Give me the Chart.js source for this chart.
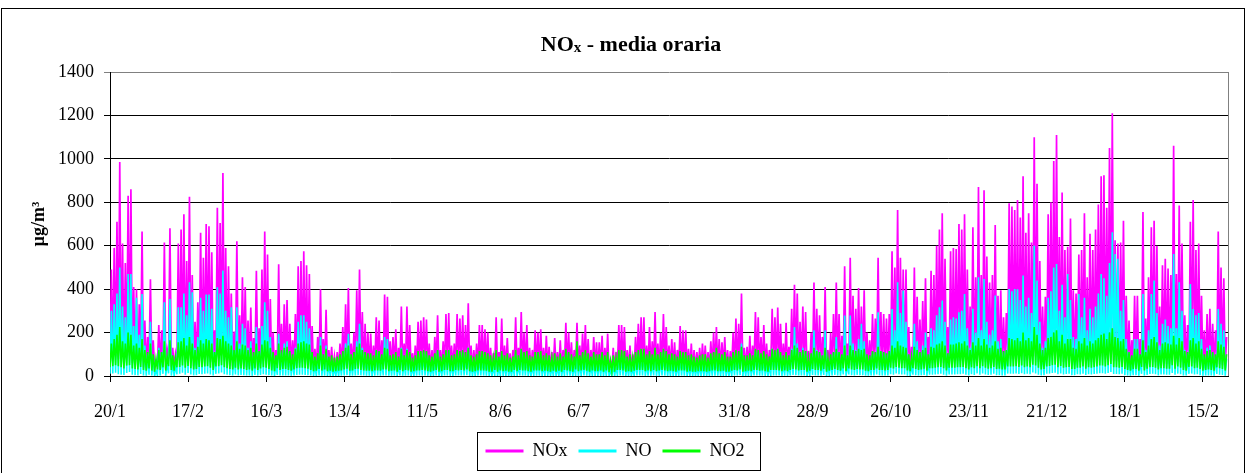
<!DOCTYPE html>
<html>
<head>
<meta charset="utf-8">
<script src="https://cdn.jsdelivr.net/npm/chart.js@4.4.1/dist/chart.umd.min.js"></script>
<style>
html, body { margin: 0; padding: 0; background: #fff; }
#wrap { position: relative; width: 1246px; height: 473px; }
</style>
</head>
<body>
<div id="wrap"><canvas id="noxChart"></canvas></div>
<script>
// x axis: one unit = one day from 20/1; labels every 28 days
const tickLabels = ['20/1', '17/2', '16/3', '13/4', '11/5', '8/6', '6/7', '3/8', '31/8', '28/9', '26/10', '23/11', '21/12', '18/1', '15/2'];

// daily highs and lows (µg/m³)
const noxPeak = [
  490, 590, 710, 985, 610, 520, 830, 860, 410, 400,
  330, 665, 255, 180, 445, 165, 65, 235, 210, 615,
  120, 680, 130, 105, 610, 675, 745, 530, 825, 465,
  250, 340, 660, 545, 700, 690, 570, 210, 775, 705,
  935, 590, 505, 380, 205, 620, 280, 455, 410, 255,
  315, 175, 485, 220, 490, 665, 560, 355, 200, 120,
  515, 240, 330, 350, 240, 165, 285, 505, 530, 575,
  510, 470, 230, 125, 180, 400, 170, 305, 120, 135,
  90, 110, 150, 225, 330, 405, 150, 200, 395, 490,
  295, 240, 200, 195, 140, 270, 255, 165, 375, 365,
  160, 180, 215, 130, 320, 150, 320, 235, 105, 140,
  250, 255, 270, 260, 150, 120, 180, 280, 120, 160,
  285, 290, 140, 150, 285, 265, 280, 235, 335, 140,
  120, 150, 235, 235, 215, 200, 130, 105, 270, 110,
  265, 140, 175, 105, 120, 270, 130, 295, 200, 235,
  130, 120, 210, 200, 215, 130, 185, 135, 110, 175,
  110, 165, 120, 245, 200, 155, 120, 245, 140, 195,
  235, 170, 120, 180, 155, 155, 185, 130, 195, 70,
  130, 110, 235, 235, 225, 120, 140, 100, 180, 240,
  270, 270, 140, 225, 160, 295, 150, 200, 285, 225,
  140, 170, 155, 120, 230, 210, 210, 125, 150, 120,
  110, 130, 150, 140, 110, 160, 200, 225, 170, 155,
  180, 120, 115, 200, 265, 240, 380, 130, 135, 185,
  140, 295, 270, 180, 235, 150, 120, 310, 270, 315,
  240, 150, 245, 135, 310, 420, 380, 250, 320, 295,
  115, 200, 430, 310, 280, 180, 410, 120, 200, 285,
  430, 285, 185, 505, 150, 545, 370, 310, 405, 320,
  395, 200, 165, 285, 265, 545, 295, 285, 265, 285,
  575, 500, 765, 545, 490, 490, 225, 135, 500, 365,
  260, 345, 450, 180, 485, 465, 600, 675, 750, 540,
  225, 575, 590, 585, 700, 675, 745, 490, 320, 685,
  455, 870, 465, 855, 550, 430, 465, 695, 370, 395,
  270, 290, 795, 780, 765, 810, 730, 920, 660, 750,
  615, 1100, 885, 530, 320, 365, 745, 800, 990, 1110,
  640, 845, 580, 595, 725, 395, 380, 560, 580, 750,
  455, 655, 580, 675, 790, 920, 925, 775, 1050, 1210,
  625, 610, 615, 715, 370, 255, 165, 370, 370, 170,
  755, 265, 455, 685, 715, 600, 320, 510, 540, 495,
  465, 1060, 470, 785, 610, 280, 235, 710, 810, 580,
  610, 370, 210, 285, 310, 240, 210, 665, 500, 450,
  180
];
const noxLow = [
  60, 75, 90, 80, 70, 55, 85, 95, 60, 50,
  45, 70, 40, 35, 55, 40, 30, 45, 40, 65,
  35, 80, 40, 35, 70, 75, 90, 65, 85, 60,
  45, 50, 75, 70, 80, 85, 65, 40, 80, 85,
  95, 70, 60, 50, 45, 65, 45, 55, 50, 40,
  45, 35, 55, 40, 55, 70, 60, 50, 40, 30,
  60, 40, 50, 50, 40, 35, 45, 60, 60, 65,
  60, 55, 40, 30, 35, 50, 35, 45, 30, 35,
  25, 30, 35, 40, 45, 55, 35, 40, 50, 55,
  45, 40, 35, 35, 30, 40, 40, 35, 45, 45,
  35, 35, 40, 30, 45, 35, 45, 40, 30, 35,
  40, 40, 45, 40, 35, 30, 35, 45, 30, 35,
  45, 45, 35, 35, 45, 40, 45, 40, 50, 35,
  30, 35, 40, 40, 40, 35, 30, 30, 45, 30,
  40, 35, 35, 30, 30, 45, 35, 45, 40, 40,
  35, 30, 40, 40, 40, 35, 35, 35, 30, 35,
  30, 35, 30, 45, 40, 35, 30, 45, 35, 40,
  45, 35, 30, 40, 35, 35, 40, 30, 40, 25,
  35, 30, 45, 45, 40, 30, 35, 30, 35, 45,
  45, 45, 35, 40, 35, 45, 35, 40, 45, 40,
  35, 40, 35, 30, 40, 40, 40, 30, 35, 30,
  30, 35, 35, 35, 30, 35, 40, 40, 35, 35,
  40, 30, 30, 40, 45, 40, 50, 30, 35, 40,
  35, 45, 45, 40, 40, 35, 30, 45, 45, 45,
  40, 35, 40, 35, 45, 55, 50, 40, 45, 45,
  30, 40, 55, 45, 45, 40, 55, 30, 40, 45,
  55, 45, 40, 60, 35, 60, 50, 45, 55, 50,
  50, 40, 35, 45, 45, 60, 45, 45, 40, 45,
  65, 60, 80, 65, 60, 60, 40, 35, 60, 50,
  45, 50, 55, 40, 60, 60, 65, 70, 75, 60,
  40, 65, 65, 65, 70, 70, 75, 60, 45, 70,
  60, 85, 60, 85, 65, 55, 60, 75, 50, 55,
  45, 45, 80, 80, 80, 85, 75, 90, 70, 80,
  70, 100, 90, 65, 45, 50, 80, 85, 95, 100,
  70, 85, 65, 70, 75, 50, 50, 65, 65, 80,
  55, 70, 65, 70, 80, 90, 90, 80, 95, 110,
  70, 70, 65, 75, 50, 40, 35, 50, 50, 35,
  75, 40, 55, 70, 75, 65, 45, 60, 60, 55,
  55, 95, 55, 80, 65, 40, 35, 75, 80, 60,
  65, 50, 35, 40, 45, 40, 35, 70, 55, 50,
  35
];
const noPeak = [
  300, 330, 380, 500, 320, 270, 470, 470, 230, 360,
  190, 378, 140, 100, 250, 90, 25, 130, 110, 340,
  60, 355, 60, 50, 317, 317, 380, 280, 432, 386,
  130, 180, 360, 300, 375, 375, 310, 110, 409, 380,
  486, 300, 270, 317, 100, 317, 150, 240, 220, 130,
  160, 90, 225, 110, 230, 340, 300, 180, 100, 55,
  195, 110, 150, 160, 110, 70, 130, 250, 280, 280,
  250, 220, 100, 50, 80, 180, 70, 140, 50, 60,
  35, 45, 60, 100, 150, 195, 60, 90, 160, 240,
  130, 100, 85, 80, 55, 120, 110, 70, 180, 170,
  65, 75, 90, 50, 130, 60, 125, 95, 40, 55,
  100, 105, 110, 100, 60, 45, 70, 115, 45, 60,
  110, 120, 55, 60, 110, 100, 110, 90, 130, 55,
  45, 60, 90, 90, 80, 75, 50, 40, 100, 40,
  100, 55, 65, 40, 45, 100, 50, 120, 75, 90,
  50, 45, 80, 75, 80, 50, 70, 50, 40, 65,
  40, 60, 45, 95, 75, 60, 45, 95, 55, 75,
  90, 65, 45, 70, 60, 60, 70, 50, 75, 25,
  50, 40, 90, 90, 85, 45, 55, 35, 70, 95,
  105, 105, 55, 85, 60, 115, 55, 75, 110, 85,
  55, 65, 60, 45, 90, 80, 80, 45, 55, 45,
  40, 50, 55, 55, 40, 60, 75, 85, 65, 60,
  70, 45, 45, 75, 100, 90, 150, 50, 50, 70,
  55, 115, 105, 70, 90, 55, 45, 125, 105, 125,
  95, 55, 95, 50, 125, 225, 150, 95, 130, 115,
  40, 75, 210, 120, 110, 65, 210, 45, 75, 110,
  180, 110, 70, 279, 55, 279, 150, 120, 170, 240,
  160, 75, 60, 110, 100, 294, 115, 110, 100, 115,
  309, 210, 432, 290, 394, 250, 85, 50, 240, 160,
  100, 140, 200, 65, 220, 210, 280, 317, 348, 250,
  85, 260, 270, 265, 294, 300, 378, 220, 130, 310,
  200, 455, 210, 447, 250, 190, 210, 371, 160, 170,
  110, 120, 401, 390, 401, 400, 350, 463, 320, 360,
  290, 600, 440, 250, 130, 160, 360, 390, 500, 516,
  300, 420, 270, 470, 350, 180, 170, 378, 270, 360,
  210, 310, 270, 320, 380, 470, 450, 370, 520, 662,
  562, 540, 300, 350, 170, 110, 70, 170, 170, 75,
  378, 120, 210, 378, 440, 290, 140, 240, 260, 230,
  220, 562, 220, 432, 300, 120, 100, 424, 309, 280,
  290, 170, 90, 130, 140, 110, 90, 309, 240, 210,
  80
];
const noLow = [
  10, 12, 15, 8, 6, 5, 14, 18, 6, 4,
  3, 9, 2, 1, 6, 2, 0, 3, 2, 10,
  1, 12, 2, 1, 8, 10, 15, 6, 14, 7,
  3, 4, 9, 8, 11, 12, 7, 2, 10, 12,
  16, 8, 6, 4, 2, 7, 3, 5, 4, 2,
  3, 1, 5, 2, 5, 8, 6, 4, 2, 0,
  5, 2, 3, 3, 2, 1, 3, 5, 6, 6,
  5, 4, 2, 0, 1, 3, 1, 2, 0, 1,
  0, 1, 1, 2, 3, 4, 1, 2, 3, 4,
  3, 2, 1, 1, 0, 2, 2, 1, 3, 3,
  1, 1, 2, 0, 3, 1, 2, 2, 0, 1,
  2, 2, 3, 2, 1, 0, 1, 3, 0, 1,
  3, 3, 1, 1, 3, 2, 3, 2, 4, 1,
  0, 1, 2, 2, 2, 1, 0, 0, 3, 0,
  2, 1, 1, 0, 0, 3, 1, 3, 2, 2,
  1, 0, 2, 2, 2, 1, 1, 1, 0, 1,
  0, 1, 0, 3, 2, 1, 0, 3, 1, 2,
  3, 1, 0, 2, 1, 1, 2, 0, 2, 0,
  1, 0, 3, 3, 2, 0, 1, 0, 1, 3,
  3, 3, 1, 2, 1, 3, 1, 2, 3, 2,
  1, 2, 1, 0, 2, 2, 2, 0, 1, 0,
  0, 1, 1, 1, 0, 1, 2, 2, 1, 1,
  2, 0, 0, 2, 3, 2, 4, 0, 1, 2,
  1, 3, 3, 2, 2, 1, 0, 3, 3, 3,
  2, 1, 2, 1, 3, 5, 4, 2, 3, 3,
  0, 2, 5, 3, 3, 2, 5, 0, 2, 3,
  5, 3, 2, 7, 1, 7, 4, 3, 5, 4,
  4, 2, 1, 3, 3, 7, 3, 3, 2, 3,
  8, 6, 12, 8, 7, 7, 2, 1, 6, 4,
  3, 4, 5, 1, 6, 6, 7, 8, 10, 6,
  2, 7, 7, 7, 8, 8, 10, 6, 3, 8,
  5, 12, 6, 12, 7, 5, 6, 10, 4, 4,
  3, 3, 11, 10, 10, 11, 9, 13, 8, 10,
  8, 16, 12, 6, 3, 4, 10, 11, 14, 15,
  8, 12, 7, 9, 10, 4, 4, 8, 7, 10,
  5, 8, 7, 9, 11, 13, 13, 10, 14, 18,
  9, 9, 8, 10, 4, 2, 1, 4, 4, 1,
  10, 2, 5, 9, 10, 8, 3, 7, 7, 6,
  6, 14, 6, 11, 8, 2, 2, 10, 11, 7,
  8, 4, 1, 2, 3, 2, 1, 9, 6, 5,
  1
];
const no2Peak = [
  150, 170, 190, 225, 160, 150, 200, 190, 140, 150,
  130, 170, 120, 110, 150, 100, 80, 120, 110, 160,
  90, 165, 95, 85, 155, 160, 175, 140, 180, 150,
  120, 135, 165, 150, 170, 165, 150, 110, 175, 170,
  185, 160, 150, 140, 120, 160, 125, 145, 140, 120,
  130, 110, 150, 115, 145, 165, 160, 130, 110, 95,
  150, 120, 130, 135, 115, 100, 125, 150, 155, 160,
  150, 145, 110, 90, 105, 140, 100, 125, 90, 95,
  85, 90, 100, 115, 130, 140, 100, 110, 135, 150,
  120, 110, 105, 105, 95, 120, 115, 100, 130, 125,
  95, 100, 110, 90, 125, 95, 120, 110, 85, 95,
  115, 115, 120, 115, 95, 90, 105, 120, 90, 100,
  120, 120, 95, 100, 120, 115, 120, 110, 130, 95,
  90, 100, 115, 115, 110, 105, 95, 85, 120, 90,
  115, 95, 105, 85, 90, 120, 95, 125, 110, 115,
  95, 90, 110, 110, 115, 95, 105, 95, 85, 105,
  90, 105, 90, 125, 110, 100, 90, 160, 95, 110,
  120, 105, 90, 110, 100, 100, 110, 95, 110, 70,
  95, 85, 120, 120, 115, 90, 100, 85, 110, 120,
  125, 125, 100, 115, 100, 130, 100, 110, 125, 115,
  100, 105, 100, 90, 115, 110, 110, 95, 100, 90,
  85, 95, 100, 100, 85, 105, 110, 130, 105, 100,
  110, 90, 90, 110, 120, 115, 135, 95, 95, 105,
  95, 125, 120, 105, 115, 100, 90, 125, 120, 125,
  110, 95, 110, 95, 120, 140, 130, 110, 120, 115,
  85, 105, 130, 115, 110, 95, 130, 85, 100, 110,
  125, 110, 100, 140, 95, 140, 120, 115, 125, 120,
  125, 100, 95, 115, 110, 135, 115, 110, 105, 115,
  140, 130, 160, 140, 135, 130, 100, 90, 135, 120,
  110, 120, 130, 100, 135, 130, 145, 150, 160, 140,
  105, 145, 145, 150, 155, 150, 160, 140, 120, 155,
  140, 175, 140, 170, 145, 130, 140, 160, 125, 130,
  115, 120, 175, 170, 165, 175, 160, 200, 165, 175,
  160, 225, 190, 150, 120, 130, 175, 180, 200, 210,
  160, 190, 150, 170, 170, 130, 125, 160, 150, 175,
  140, 160, 150, 165, 175, 190, 195, 170, 200, 220,
  180, 175, 160, 170, 125, 110, 95, 125, 125, 100,
  165, 110, 140, 170, 180, 155, 120, 150, 155, 150,
  145, 185, 145, 175, 160, 115, 110, 165, 175, 150,
  160, 125, 100, 115, 120, 110, 100, 160, 145, 135,
  100
];
const no2Low = [
  40, 45, 50, 45, 40, 35, 48, 50, 35, 32,
  30, 42, 28, 25, 35, 25, 20, 30, 28, 40,
  25, 45, 28, 25, 40, 42, 48, 38, 46, 36,
  30, 32, 42, 40, 44, 45, 38, 28, 44, 45,
  50, 40, 36, 32, 30, 38, 30, 35, 32, 28,
  30, 25, 35, 28, 35, 40, 38, 32, 26, 22,
  36, 28, 32, 32, 28, 25, 30, 36, 38, 38,
  36, 34, 28, 22, 25, 32, 25, 30, 22, 24,
  20, 22, 24, 26, 30, 34, 24, 26, 32, 34,
  28, 26, 24, 24, 22, 26, 26, 24, 30, 30,
  22, 24, 26, 20, 28, 22, 28, 26, 20, 22,
  26, 26, 28, 26, 22, 20, 24, 28, 20, 22,
  28, 28, 22, 22, 28, 26, 28, 26, 30, 22,
  20, 22, 26, 26, 26, 24, 20, 20, 28, 20,
  26, 22, 24, 20, 20, 28, 22, 28, 26, 26,
  22, 20, 26, 26, 26, 22, 24, 22, 20, 24,
  20, 24, 20, 28, 26, 22, 20, 30, 22, 26,
  28, 24, 20, 26, 22, 22, 26, 20, 26, 18,
  22, 20, 28, 28, 26, 20, 22, 20, 24, 28,
  28, 28, 22, 26, 22, 28, 22, 26, 28, 26,
  22, 24, 22, 20, 26, 26, 26, 20, 22, 20,
  20, 22, 22, 22, 20, 22, 26, 26, 22, 22,
  24, 20, 20, 24, 28, 26, 30, 20, 22, 24,
  22, 28, 28, 24, 26, 22, 20, 28, 28, 28,
  26, 22, 26, 22, 28, 32, 30, 26, 28, 28,
  20, 24, 32, 28, 28, 24, 32, 20, 24, 28,
  32, 28, 24, 35, 22, 35, 30, 28, 32, 30,
  30, 24, 22, 28, 28, 35, 28, 28, 26, 28,
  38, 35, 42, 38, 36, 36, 26, 22, 36, 32,
  28, 30, 34, 25, 36, 36, 38, 40, 42, 36,
  26, 38, 38, 38, 40, 40, 42, 36, 30, 40,
  36, 45, 36, 45, 38, 34, 36, 42, 32, 34,
  30, 30, 44, 44, 44, 45, 42, 48, 40, 44,
  40, 52, 48, 38, 30, 32, 44, 46, 50, 52,
  40, 46, 38, 40, 42, 32, 32, 38, 38, 44,
  34, 40, 38, 40, 44, 48, 48, 44, 50, 55,
  40, 40, 38, 42, 32, 28, 24, 32, 32, 24,
  42, 26, 34, 40, 42, 38, 30, 36, 36, 34,
  34, 50, 34, 44, 38, 28, 24, 42, 44, 36,
  38, 32, 24, 28, 30, 28, 24, 40, 36, 32,
  25
];

const FONT = '"Liberation Serif", "Times New Roman", serif';

// low at the start of each day, high half a day later
function buildSeries(lows, peaks) {
    const pts = [];
    for (let d = 0; d < peaks.length; d++) {
        pts.push({ x: d, y: lows[d] });
        pts.push({ x: d + 0.5, y: peaks[d] });
    }
    return pts;
}

const framePlugin = {
    id: 'frame',
    beforeDraw(chart) {
        const ctx = chart.ctx;
        ctx.save();
        ctx.fillStyle = '#fff';
        ctx.fillRect(0, 0, chart.width, chart.height);
        ctx.strokeStyle = '#000';
        ctx.lineWidth = 1;
        ctx.strokeRect(1.5, 8.5, chart.width - 3, chart.height + 20);
        ctx.restore();
    },
    afterDraw(chart) {
        const ctx = chart.ctx;
        const a = chart.chartArea;
        ctx.save();
        // plot area right border
        ctx.strokeStyle = '#808080';
        ctx.lineWidth = 1;
        ctx.beginPath();
        ctx.moveTo(Math.round(a.right) + 0.5, a.top);
        ctx.lineTo(Math.round(a.right) + 0.5, a.bottom);
        ctx.stroke();

        // title with subscript x
        const big = 'bold 22px ' + FONT;
        const small = 'bold 15px ' + FONT;
        ctx.fillStyle = '#000';
        ctx.textBaseline = 'alphabetic';
        ctx.font = big;
        const w1 = ctx.measureText('NO').width;
        const w3 = ctx.measureText(' - media oraria').width;
        ctx.font = small;
        const w2 = ctx.measureText('x').width;
        let x = 631 - (w1 + w2 + w3) / 2;
        const y = 51;
        ctx.font = big;
        ctx.fillText('NO', x, y);
        x += w1;
        ctx.font = small;
        ctx.fillText('x', x, y + 1);
        x += w2;
        ctx.font = big;
        ctx.fillText(' - media oraria', x, y);

        // box round the legend
        const boxes = chart.legend.legendHitBoxes;
        if (boxes && boxes.length) {
            let l = Infinity, r = -Infinity, t = Infinity, b = -Infinity;
            boxes.forEach(function (hb) {
                l = Math.min(l, hb.left);
                r = Math.max(r, hb.left + hb.width);
                t = Math.min(t, hb.top);
                b = Math.max(b, hb.top + hb.height);
            });
            ctx.strokeStyle = '#000';
            ctx.strokeRect(Math.round(l - 9) + 0.5, Math.round(t - 10) + 0.5, Math.round(r - l + 24), Math.round(b - t + 20));
        }
        ctx.restore();
    }
};

document.addEventListener('DOMContentLoaded', function () {
    const ctx = document.getElementById('noxChart').getContext('2d');
    new Chart(ctx, {
        type: 'line',
        data: {
            datasets: [{
                label: 'NOx',
                data: buildSeries(noxLow, noxPeak),
                borderColor: '#FF00FF',
                backgroundColor: '#FF00FF',
                borderWidth: 1.7,
                order: 3
            }, {
                label: 'NO',
                data: buildSeries(noLow, noPeak),
                borderColor: '#00FFFF',
                backgroundColor: '#00FFFF',
                borderWidth: 1.6,
                order: 2
            }, {
                label: 'NO2',
                data: buildSeries(no2Low, no2Peak),
                borderColor: '#00FF00',
                backgroundColor: '#00FF00',
                borderWidth: 1.6,
                order: 1
            }]
        },
        options: {
            responsive: true,
            maintainAspectRatio: false,
            devicePixelRatio: 1,
            animation: false,
            elements: {
                point: { radius: 0, hoverRadius: 0 },
                line: { tension: 0 }
            },
            layout: {
                padding: { left: 2, right: 18, top: 72, bottom: 3 }
            },
            scales: {
                x: {
                    type: 'linear',
                    min: 0,
                    max: 401,
                    afterFit: function (scale) { scale.height = 55; },
                    ticks: {
                        stepSize: 28,
                        includeBounds: false,
                        autoSkip: false,
                        maxRotation: 0,
                        padding: 19,
                        color: '#000',
                        font: { family: FONT, size: 18 },
                        callback: function (v) { return tickLabels[v / 28]; }
                    },
                    grid: {
                        drawOnChartArea: false,
                        drawTicks: true,
                        tickLength: 6,
                        color: '#000'
                    },
                    border: { color: '#000', width: 1 }
                },
                y: {
                    min: 0,
                    max: 1400,
                    afterFit: function (scale) { scale.width = 108; },
                    ticks: {
                        stepSize: 200,
                        padding: 10,
                        color: '#000',
                        font: { family: FONT, size: 18 },
                        callback: function (v) { return String(v); }
                    },
                    grid: {
                        tickLength: 6,
                        color: function (c) { return c.tick && c.tick.value === 1400 ? '#808080' : '#000'; }
                    },
                    border: { color: '#000', width: 1 },
                    title: {
                        display: true,
                        text: 'µg/m³',
                        color: '#000',
                        font: { family: FONT, size: 18, weight: 'bold' },
                        padding: { top: 27, bottom: 0 }
                    }
                }
            },
            plugins: {
                title: { display: false },
                tooltip: { enabled: false },
                legend: {
                    position: 'bottom',
                    labels: {
                        usePointStyle: true,
                        pointStyle: 'line',
                        pointStyleWidth: 38,
                        padding: 11,
                        color: '#000',
                        font: { family: FONT, size: 18 },
                        sort: function (a, b) { return a.datasetIndex - b.datasetIndex; },
                        generateLabels: function (chart) {
                            const items = Chart.defaults.plugins.legend.labels.generateLabels(chart);
                            items.forEach(function (it) { it.lineWidth = 3; });
                            return items;
                        }
                    }
                }
            }
        },
        plugins: [framePlugin]
    });
});
</script>
</body>
</html>
